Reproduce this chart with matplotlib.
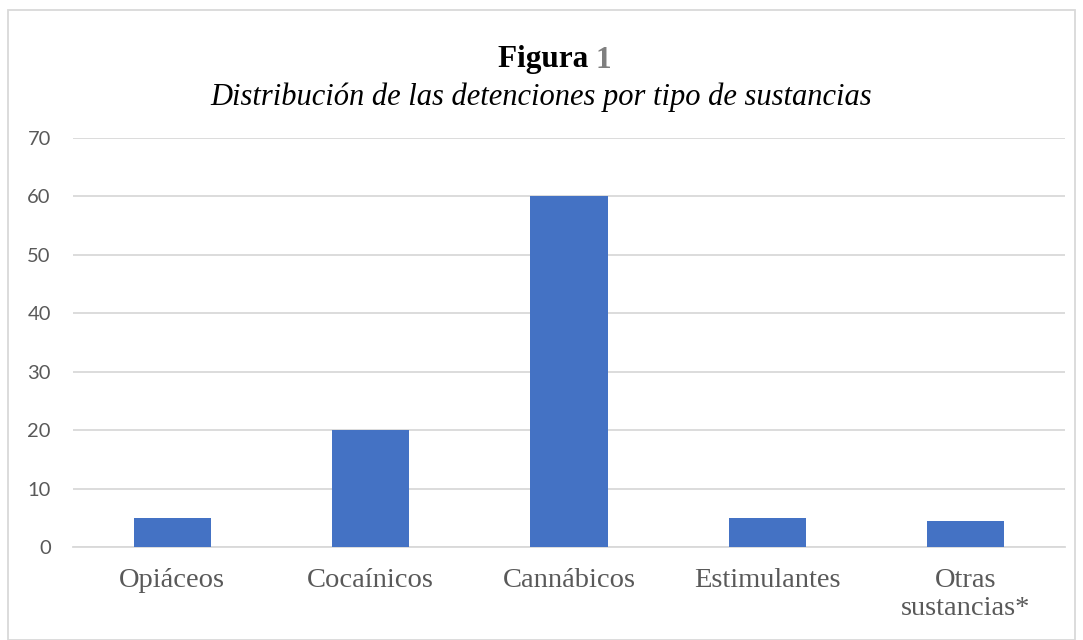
import matplotlib
matplotlib.use("Agg")
import matplotlib.pyplot as plt
from matplotlib.patches import Rectangle

# datos
categorias = ["Opiáceos", "Cocaínicos", "Cannábicos", "Estimulantes", "Otras\nsustancias*"]
detenciones = [5, 20, 60, 5, 4.5]
yticks = [0, 10, 20, 30, 40, 50, 60, 70]

fig = plt.figure(figsize=(10.83, 6.4), dpi=100)
ax = fig.add_axes([73/1083, 1 - 547/640, (1065 - 73)/1083, (547 - 138)/640])

ax.bar(range(len(categorias)), detenciones, width=0.39, color="#4472C4", zorder=3)

ax.set_xlim(-0.5, len(categorias) - 0.5)
ax.set_ylim(0, 70)
ax.set_yticks(yticks)
ax.yaxis.grid(True, color="#D9D9D9", linewidth=1.3, zorder=0)
ax.set_xticks(range(len(categorias)))
ax.set_xticklabels(categorias, family="Liberation Serif", fontsize=20.5,
                   color="#595959", linespacing=1.15)
for lbl in ax.get_yticklabels():
    lbl.set_family("Lato")
    lbl.set_fontsize(14.5)
    lbl.set_color("#595959")
ax.tick_params(axis="both", length=0)
ax.tick_params(axis="y", pad=16)
ax.tick_params(axis="x", pad=15)
for s in ["top", "right", "left"]:
    ax.spines[s].set_visible(False)
ax.spines["bottom"].set_color("#D9D9D9")
ax.spines["bottom"].set_linewidth(1.3)

# título
xt = 596/1083
fig.text(xt, 1 - 60/640, "Figura ", ha="right", va="center", family="Liberation Serif",
         fontsize=22.5, fontweight="bold", color="black")
fig.text(xt, 1 - 60/640, "1", ha="left", va="center", family="Liberation Serif",
         fontsize=22.5, fontweight="bold", color="#7F7F7F")
fig.text(0.5, 1 - 97/640, "Distribución de las detenciones por tipo de sustancias",
         ha="center", va="center", family="Liberation Serif", fontsize=22,
         style="italic", color="black")

# borde del gráfico
fig.patches.append(Rectangle((8/1083, 0), 1 - 16/1083, 1 - 10/640,
                             transform=fig.transFigure, fill=False,
                             edgecolor="#D9D9D9", linewidth=1.3))

fig.savefig("out.png", dpi=100)
